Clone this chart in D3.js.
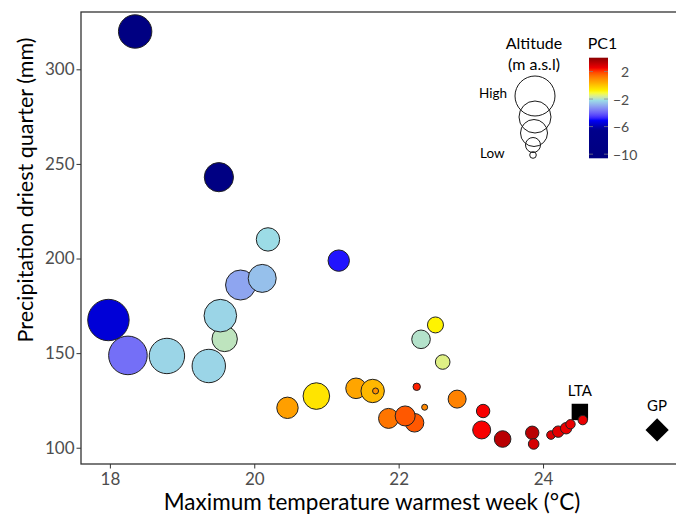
<!DOCTYPE html>
<html>
<head>
<meta charset="utf-8">
<script src="https://cdn.jsdelivr.net/npm/d3@7"></script>
<style>
  body { margin: 0; background: #fff; }
  text { font-family: Lato, "Open Sans", sans-serif; }
</style>
</head>
<body>
<div id="chart"></div>
<script>
// site values, in drawing order
var tempMax = [18.35, 19.51, 17.98, 18.25, 18.79, 19.37, 19.59, 19.53, 19.81, 20.11,
               20.19, 21.17, 22.51, 22.31, 22.61, 20.46, 20.86, 21.41, 21.64, 21.68,
               22.25, 22.36, 21.86, 22.22, 22.09, 22.81, 23.17, 23.15, 23.44, 23.85,
               23.87, 24.11, 24.21, 24.32, 24.38, 24.55];
var precipDry = [320, 243, 167.5, 148.8, 148.5, 143.2, 157.5, 169.8, 186.0, 189.5,
                 210.1, 198.9, 164.9, 157.3, 145.3, 121.1, 127.3, 131.4, 130.0, 130.0,
                 132.2, 121.4, 115.5, 113.2, 116.8, 125.7, 119.4, 109.4, 104.6, 107.9,
                 102.0, 106.7, 108.5, 110.3, 112.4, 114.6];
var pc1 = [-10, -9.5, -5.5, -3.8, -2.3, -2.3, -1.9, -2.3, -3.0, -2.6,
           -2.2, -4.9, -0.8, -2.0, -1.5, 0.6, -0.55, 0.5, 0.2, 0.9,
           2.2, 1.0, 1.3, 1.7, 1.7, 1.1, 2.4, 2.4, 3.3, 3.3,
           2.9, 2.8, 2.7, 2.6, 2.6, 2.6];
var altitude = [1470, 1260, 1870, 1730, 1570, 1470, 1070, 1430, 1300, 1200,
                970, 870, 600, 730, 530, 870, 1130, 830, 970, 100,
                170, 100, 800, 730, 800, 700, 470, 700, 630, 470,
                330, 230, 370, 370, 270, 270];

// reference points
var refNames = ["LTA", "GP"];
var refTemp = [24.51, 25.58];
var refPrecip = [118.9, 109.4];

var xTicks = [18, 20, 22, 24];
var yTicks = [100, 150, 200, 250, 300];
var pcTicks = [2, -2, -6, -10];
var legendAltitude = [1800, 1400, 1150, 550, 130];
var pcStops = [-10.6, -6.5, -5, -2.2, -1, 0.5, 2.3, 4];
var pcColours = ["#000080", "#00008b", "#0000ff", "#9cdce6", "#ffff00", "#ffa500", "#ff0000", "#8b0000"];

var width = 676, height = 519;
var panel = {left: 81, top: 12, bottom: 464, right: 690};

var svg = d3.select("#chart").append("svg")
    .attr("width", width)
    .attr("height", height);

var x = d3.scaleLinear().domain([17.6, 25.85]).range([panel.left, 676.6]);
var y = d3.scaleLinear().domain([91.4, 330.3]).range([panel.bottom, panel.top]);
var r = d3.scaleLinear().domain([0, 2000]).range([2, 22]);
var colour = d3.scaleLinear().domain(pcStops).range(pcColours).interpolate(d3.interpolateLab);

// axes
svg.append("g")
    .attr("transform", "translate(0," + panel.bottom + ")")
    .call(d3.axisBottom(x).tickValues(xTicks).tickSize(4.5).tickPadding(4));
svg.append("g")
    .attr("transform", "translate(" + panel.left + ",0)")
    .call(d3.axisLeft(y).tickValues(yTicks).tickSize(4.5).tickPadding(2));

svg.selectAll(".domain").remove();
svg.selectAll(".tick line").attr("stroke", "#333");
svg.selectAll(".tick text")
    .attr("fill", "#4d4d4d")
    .style("font-size", "17px")
    .style("font-family", "Lato, 'Open Sans', sans-serif");

// panel border
svg.append("rect")
    .attr("x", panel.left)
    .attr("y", panel.top)
    .attr("width", panel.right - panel.left)
    .attr("height", panel.bottom - panel.top)
    .attr("fill", "none")
    .attr("stroke", "#333")
    .attr("stroke-width", 1.3);

// axis titles
svg.append("text")
    .attr("x", 372)
    .attr("y", 510)
    .attr("text-anchor", "middle")
    .style("font-size", "22.5px")
    .text("Maximum temperature warmest week (°C)");

svg.append("text")
    .attr("transform", "translate(25,190) rotate(-90)")
    .attr("text-anchor", "middle")
    .attr("dominant-baseline", "central")
    .style("font-size", "21.5px")
    .text("Precipitation driest quarter (mm)");

// reference markers
var refs = refNames.map(function(n, i) {
  return {name: n, x: refTemp[i], y: refPrecip[i]};
});
svg.append("g").selectAll("path")
  .data(refs)
  .enter().append("path")
    .attr("d", d3.symbol(d3.symbolSquare, 270))
    .attr("transform", function(d, i) {
      return "translate(" + x(d.x) + "," + y(d.y) + ")" + (i === 1 ? " rotate(45)" : "");
    })
    .attr("fill", "#000");

svg.append("g").selectAll("text")
  .data(refs)
  .enter().append("text")
    .attr("x", function(d) { return x(d.x); })
    .attr("y", function(d, i) { return y(d.y) - (i === 0 ? 16 : 19); })
    .attr("text-anchor", "middle")
    .style("font-size", "15px")
    .text(function(d) { return d.name; });

// sites
var sites = tempMax.map(function(t, i) {
  return {t: t, p: precipDry[i], pc: pc1[i], alt: altitude[i]};
});
svg.append("g").selectAll("circle")
  .data(sites)
  .enter().append("circle")
    .attr("cx", function(d) { return x(d.t); })
    .attr("cy", function(d) { return y(d.p); })
    .attr("r", function(d) { return r(d.alt); })
    .attr("fill", function(d) { return colour(d.pc); })
    .attr("stroke", "#222")
    .attr("stroke-width", 1);

// size legend
var leg = svg.append("g");
leg.append("text").attr("x", 534).attr("y", 49).attr("text-anchor", "middle")
    .style("font-size", "16px").text("Altitude");
leg.append("text").attr("x", 534).attr("y", 70).attr("text-anchor", "middle")
    .style("font-size", "16px").text("(m a.s.l)");
leg.append("text").attr("x", 479).attr("y", 98)
    .style("font-size", "13.5px").text("High");
leg.append("text").attr("x", 480).attr("y", 158)
    .style("font-size", "13.5px").text("Low");

var legendCentres = [[535, 96], [535, 117], [534, 133], [533, 145], [533, 155]];
leg.selectAll("circle")
  .data(legendAltitude)
  .enter().append("circle")
    .attr("cx", function(d, i) { return legendCentres[i][0]; })
    .attr("cy", function(d, i) { return legendCentres[i][1]; })
    .attr("r", function(d) { return r(d); })
    .attr("fill", "none")
    .attr("stroke", "#1a1a1a")
    .attr("stroke-width", 1);

// colour bar
var bar = {x: 589, w: 19, top: 57.7, bottom: 158.3};
var pcBar = d3.scaleLinear().domain([-10.6, 4]).range([bar.bottom, bar.top]);
var grad = svg.append("defs").append("linearGradient")
    .attr("id", "pcGrad")
    .attr("x1", 0).attr("y1", 1).attr("x2", 0).attr("y2", 0);
d3.range(0, 41).forEach(function(k) {
  var v = -10.6 + 14.6 * k / 40;
  grad.append("stop").attr("offset", (k / 40 * 100) + "%").attr("stop-color", colour(v));
});
svg.append("text").attr("x", 602.5).attr("y", 49).attr("text-anchor", "middle")
    .style("font-size", "16px").text("PC1");
svg.append("rect")
    .attr("x", bar.x).attr("y", bar.top)
    .attr("width", bar.w).attr("height", bar.bottom - bar.top)
    .attr("fill", "url(#pcGrad)");

var barTicks = svg.append("g").selectAll("g")
  .data(pcTicks)
  .enter().append("g")
    .attr("transform", function(d) { return "translate(0," + pcBar(d) + ")"; });
barTicks.append("line").attr("x1", bar.x).attr("x2", bar.x + 4)
    .attr("stroke", "#888").attr("stroke-opacity", 0.7);
barTicks.append("line").attr("x1", bar.x + bar.w - 4).attr("x2", bar.x + bar.w)
    .attr("stroke", "#888").attr("stroke-opacity", 0.7);
barTicks.append("text")
    .attr("x", 613)
    .attr("dominant-baseline", "central")
    .attr("fill", "#4d4d4d")
    .style("font-size", "14px")
    .text(function(d) { return d < 0 ? "\u2212" + Math.abs(d) : "\u2007" + d; });
</script>
</body>
</html>
